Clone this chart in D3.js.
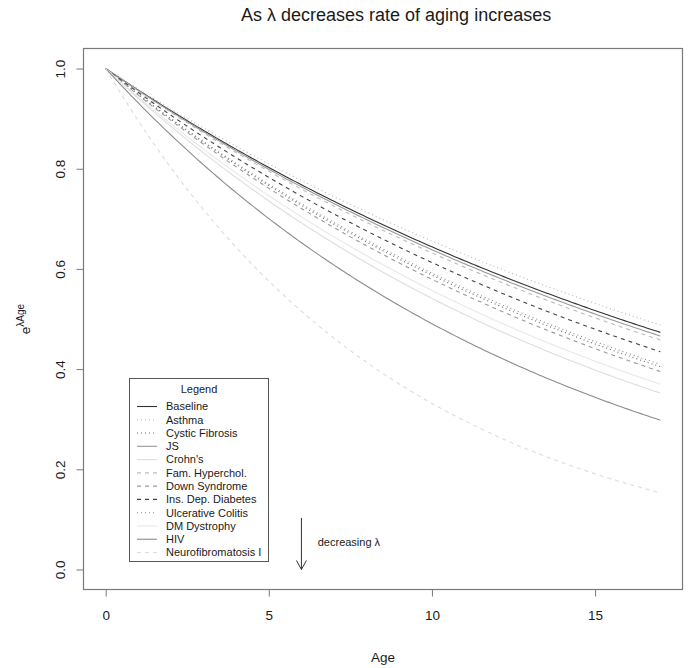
<!DOCTYPE html>
<html>
<head>
<meta charset="utf-8">
<script src="https://cdn.jsdelivr.net/npm/d3@7"></script>
<style>
  body { margin: 0; background: #fff; }
  svg { display: block; font-family: "Liberation Sans", Arial, sans-serif; }
</style>
</head>
<body>
<svg id="chart" width="696" height="668"></svg>
<script>
// ---- data ----
const conditions = ["Baseline", "Asthma", "Cystic Fibrosis", "JS", "Crohn's", "Fam. Hyperchol.",
  "Down Syndrome", "Ins. Dep. Diabetes", "Ulcerative Colitis", "DM Dystrophy", "HIV", "Neurofibromatosis I"];
const lambdas = [-0.0440, -0.0422, -0.0532, -0.0449, -0.0614, -0.0459,
  -0.0546, -0.0490, -0.0525, -0.0585, -0.0712, -0.1104];
const lineColors = ["#333333", "#b8b8b8", "#666666", "#999999", "#dddddd", "#bbbbbb",
  "#999999", "#444444", "#888888", "#e8e8e8", "#8c8c8c", "#dcdcdc"];
const lineDash = ["none", "1,3", "1,3", "none", "none", "4,4",
  "4,4", "4,4", "1,3", "none", "none", "4,4"];
const ageMax = 17;
const xTicks = [0, 5, 10, 15];
const yTicks = [0.0, 0.2, 0.4, 0.6, 0.8, 1.0];
const titleText = "As \u03bb decreases rate of aging increases";

// ---- layout ----
const svg = d3.select("#chart");
const box = { left: 83.5, right: 682.5, top: 48.5, bottom: 589.5 };
const xPad = ageMax * 0.04;
const x = d3.scaleLinear().domain([-xPad, ageMax + xPad]).range([box.left, box.right]);
const y = d3.scaleLinear().domain([-0.04, 1.04]).range([box.bottom, box.top]);

const textColor = "#1a1a1a";
const axisColor = "#7a7a7a";

// curves
const ages = d3.range(0, ageMax + 0.0001, 0.1);
const line = d3.line().x(d => x(d[0])).y(d => y(d[1]));
const curves = svg.append("g");
conditions.forEach((c, i) => {
  const pts = ages.map(a => [a, Math.exp(lambdas[i] * a)]);
  curves.append("path")
    .attr("d", line(pts))
    .attr("fill", "none")
    .attr("stroke", lineColors[i])
    .attr("stroke-width", 1.1)
    .attr("stroke-dasharray", lineDash[i]);
});

// box
svg.append("rect")
  .attr("x", box.left).attr("y", box.top)
  .attr("width", box.right - box.left).attr("height", box.bottom - box.top)
  .attr("fill", "none").attr("stroke", axisColor).attr("stroke-width", 1.2);

// x axis
const xAxis = d3.axisBottom(x).tickValues(xTicks).tickSize(7).tickPadding(14).tickFormat(d3.format("d"));
const gx = svg.append("g").attr("transform", `translate(0,${box.bottom})`).call(xAxis);
gx.select(".domain").attr("d", `M${x(0)},0H${x(15)}`).attr("stroke", axisColor);
gx.selectAll(".tick line").attr("stroke", axisColor);
gx.selectAll(".tick text").attr("fill", textColor).attr("font-size", 13.5)
  .attr("font-family", "Liberation Sans, Arial, sans-serif");

// y axis
const yAxis = d3.axisLeft(y).tickValues(yTicks).tickSize(7).tickFormat(d3.format(".1f"));
const gy = svg.append("g").attr("transform", `translate(${box.left},0)`).call(yAxis);
gy.select(".domain").attr("d", `M0,${y(0)}V${y(1)}`).attr("stroke", axisColor);
gy.selectAll(".tick line").attr("stroke", axisColor);
gy.selectAll(".tick text")
  .attr("fill", textColor).attr("font-size", 13.5)
  .attr("font-family", "Liberation Sans, Arial, sans-serif")
  .attr("x", null).attr("dy", null)
  .attr("text-anchor", "middle")
  .attr("transform", "translate(-23,0) rotate(-90)")
  .attr("dy", "0.35em");

// title (rendered slightly right of centre, as in the reference)
svg.append("text")
  .attr("x", 241).attr("y", 21)
  .attr("text-anchor", "start").attr("font-size", 18).attr("fill", textColor)
  .text(titleText);

// x label
svg.append("text")
  .attr("x", (box.left + box.right) / 2).attr("y", 662)
  .attr("text-anchor", "middle").attr("font-size", 13.5).attr("fill", textColor)
  .text("Age");

// y label e^{λAge}
const yl = svg.append("text")
  .attr("transform", `translate(30,${(box.top + box.bottom) / 2}) rotate(-90)`)
  .attr("text-anchor", "middle").attr("fill", textColor).attr("font-size", 13.5);
yl.append("tspan").text("e");
yl.append("tspan").attr("dy", -6).attr("font-size", 10).text("\u03bbAge");

// legend
const lg = { left: 129.5, top: 378.5, right: 268.5, bottom: 561.5 };
svg.append("rect")
  .attr("x", lg.left).attr("y", lg.top)
  .attr("width", lg.right - lg.left).attr("height", lg.bottom - lg.top)
  .attr("fill", "#fff").attr("stroke", "#555").attr("stroke-width", 1);
svg.append("text")
  .attr("x", (lg.left + lg.right) / 2).attr("y", 393)
  .attr("text-anchor", "middle").attr("font-size", 11).attr("fill", textColor)
  .text("Legend");
const ly = d3.scalePoint().domain(conditions).range([406.5, 552.5]);
conditions.forEach((c, i) => {
  svg.append("line")
    .attr("x1", 137).attr("x2", 157).attr("y1", ly(c)).attr("y2", ly(c))
    .attr("stroke", lineColors[i]).attr("stroke-width", 1.1)
    .attr("stroke-dasharray", lineDash[i]);
  svg.append("text")
    .attr("x", 166).attr("y", ly(c)).attr("dy", "0.35em")
    .attr("font-size", 11).attr("fill", textColor)
    .text(c);
});

// annotation arrow
const ax = x(6);
svg.append("line").attr("x1", ax).attr("x2", ax).attr("y1", y(0.103)).attr("y2", y(0.0))
  .attr("stroke", "#333").attr("stroke-width", 1);
svg.append("path")
  .attr("d", `M${ax - 5},${y(0.0) - 9}L${ax},${y(0.0)}L${ax + 5},${y(0.0) - 9}`)
  .attr("fill", "none").attr("stroke", "#333").attr("stroke-width", 1);
svg.append("text")
  .attr("x", x(6.5)).attr("y", y(0.055)).attr("dy", "0.35em")
  .attr("font-size", 11).attr("fill", textColor)
  .text("decreasing \u03bb");
</script>
</body>
</html>
